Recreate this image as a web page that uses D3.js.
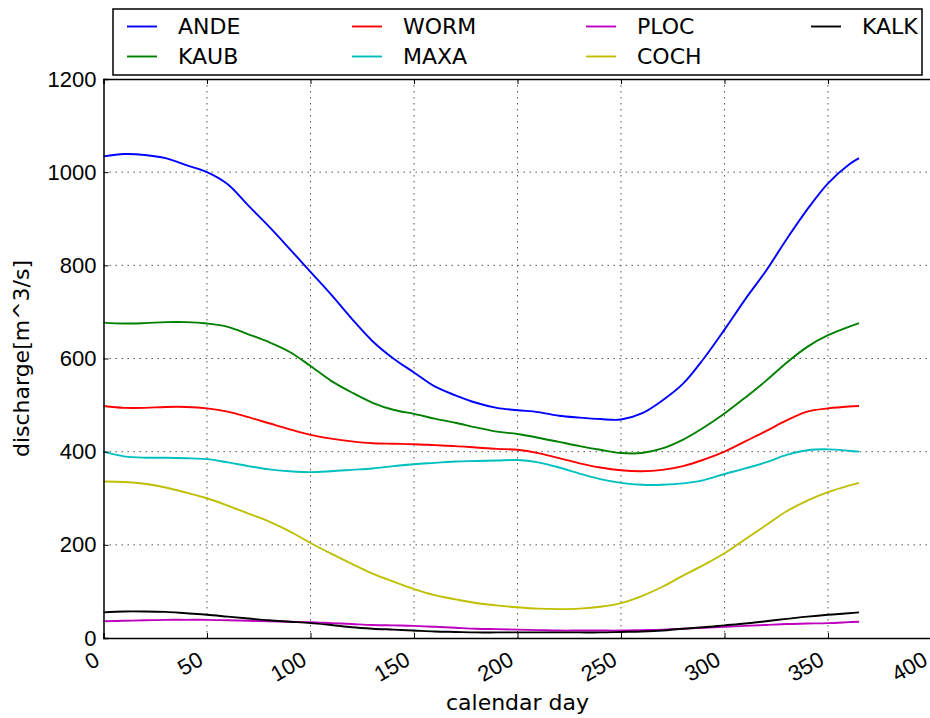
<!DOCTYPE html>
<html>
<head>
<meta charset="utf-8">
<script src="https://cdn.jsdelivr.net/npm/d3@7"></script>
<style>
  body { margin: 0; background: #fff; }
  svg { font-family: "DejaVu Sans", sans-serif; }
</style>
</head>
<body>
<svg id="chart" width="930" height="718"></svg>
<script>
// calendar days sampled along the curves
var days = [0, 10, 20, 30, 40, 50, 60, 70, 80, 90, 100, 110, 120, 130, 140, 150, 160, 170, 180,
            190, 200, 210, 220, 230, 240, 250, 260, 270, 280, 290, 300, 310, 320, 330, 340, 350, 360, 365];

var ANDE = [1034, 1039, 1037, 1030, 1015, 1000, 974, 928, 883, 835, 786, 737, 685, 637, 600, 570, 540, 521, 505,
            494, 489, 485, 477, 473, 470, 469, 482, 510, 546, 600, 662, 727, 788, 856, 920, 976, 1016, 1030];
var KAUB = [677, 675, 676, 678, 678, 675, 668, 652, 635, 614, 584, 552, 527, 505, 490, 481, 471, 462, 452,
            443, 438, 430, 421, 412, 404, 397, 397, 407, 426, 452, 482, 516, 552, 591, 625, 650, 668, 676];
var WORM = [498, 494, 494, 496, 496, 493, 486, 474, 461, 448, 436, 428, 422, 418, 417, 416, 414, 412, 409,
            406, 404, 397, 386, 375, 366, 360, 358, 361, 369, 383, 400, 422, 444, 467, 486, 493, 497, 498];
var MAXA = [400, 390, 387, 387, 386, 384, 377, 369, 362, 358, 356, 358, 361, 364, 369, 373, 376, 379, 380,
            381, 382, 377, 366, 353, 341, 333, 329, 329, 332, 339, 352, 364, 377, 393, 403, 405, 402, 400];
var PLOC = [36, 37, 38, 39, 39, 39, 38, 37, 36, 35, 34, 32, 30, 28, 27, 26, 24, 22, 20,
            19, 18, 17, 16, 16, 16, 16, 17, 18, 20, 22, 24, 26, 28, 30, 31, 32, 34, 35];
var COCH = [336, 335, 331, 323, 312, 300, 284, 267, 250, 229, 204, 181, 159, 138, 121, 105, 92, 83, 75,
            70, 66, 63, 62, 63, 67, 75, 90, 110, 134, 157, 182, 212, 242, 272, 295, 313, 327, 333];
var KALK = [55, 57, 57, 56, 53, 50, 46, 42, 38, 35, 32, 28, 23, 20, 18, 16, 14, 13, 12,
            12, 12, 12, 12, 12, 12, 13, 14, 16, 20, 23, 27, 31, 36, 41, 46, 50, 53, 55];

var names  = ['ANDE', 'KAUB', 'WORM', 'MAXA', 'PLOC', 'COCH', 'KALK'];
var values = [ANDE, KAUB, WORM, MAXA, PLOC, COCH, KALK];
var colors = ['#0000ff', '#008000', '#ff0000', '#00bfbf', '#bf00bf', '#bfbf00', '#000000'];

var xTicks = [0, 50, 100, 150, 200, 250, 300, 350, 400];
var yTicks = [0, 200, 400, 600, 800, 1000, 1200];

var svg = d3.select('#chart');
var plotLeft = 103.5, plotRight = 931.5, plotTop = 79, plotBottom = 638;
var fontSize = '22px';

var x = d3.scaleLinear().domain([0, 400]).range([plotLeft, plotRight]);
var y = d3.scaleLinear().domain([0, 1200]).range([plotBottom, plotTop]);

// grid
var grid = svg.append('g').attr('class', 'grid');
grid.selectAll('line.vx').data(xTicks.slice(1, -1)).enter().append('line')
  .attr('x1', function(d) { return x(d); }).attr('x2', function(d) { return x(d); })
  .attr('y1', plotTop).attr('y2', plotBottom);
grid.selectAll('line.hy').data(yTicks.slice(1, -1)).enter().append('line')
  .attr('x1', plotLeft).attr('x2', plotRight)
  .attr('y1', function(d) { return y(d); }).attr('y2', function(d) { return y(d); });
grid.selectAll('line')
  .attr('stroke', '#555')
  .attr('stroke-width', 1)
  .attr('stroke-dasharray', '1.5,4.5');

// series
var line = d3.line()
  .x(function(d) { return x(d[0]); })
  .y(function(d) { return y(d[1]); })
  .curve(d3.curveCatmullRom.alpha(0.5));

svg.append('g').attr('class', 'series')
  .selectAll('path').data(values).enter().append('path')
  .attr('d', function(v) { return line(days.map(function(day, i) { return [day, v[i]]; })); })
  .attr('fill', 'none')
  .attr('stroke', function(v, i) { return colors[i]; })
  .attr('stroke-width', 1.9);

// axes (ticks point inward, like matplotlib classic)
var xAxis = d3.axisBottom(x).tickValues(xTicks).tickSize(-5);
var gx = svg.append('g').attr('transform', 'translate(0,' + plotBottom + ')').call(xAxis);
gx.selectAll('text')
  .style('font-size', fontSize)
  .attr('fill', '#000')
  .attr('text-anchor', 'end')
  .attr('x', 0).attr('y', 0).attr('dy', 0)
  .attr('transform', 'translate(-3,26) rotate(-30)');

var xTop = d3.axisTop(x).tickValues(xTicks).tickSize(-5).tickFormat('');
svg.append('g').attr('transform', 'translate(0,' + plotTop + ')').call(xTop);

var yAxis = d3.axisLeft(y).tickValues(yTicks).tickSize(-5).tickPadding(7).tickFormat(d3.format('d'));
var gy = svg.append('g').attr('transform', 'translate(' + plotLeft + ',0)').call(yAxis);
gy.selectAll('text').style('font-size', fontSize).attr('fill', '#000');

svg.selectAll('.domain').attr('stroke', '#000').attr('stroke-width', 1.5);
svg.selectAll('.tick line').attr('stroke', '#000');

// axis labels
svg.append('text')
  .attr('x', (plotLeft + x(400)) / 2).attr('y', 710)
  .attr('text-anchor', 'middle')
  .style('font-size', fontSize)
  .text('calendar day');

svg.append('text')
  .attr('transform', 'translate(29,' + ((plotTop + plotBottom) / 2) + ') rotate(-90)')
  .attr('text-anchor', 'middle')
  .style('font-size', fontSize)
  .text('discharge[m^3/s]');

// legend, 4 columns filled column-wise
var legend = svg.append('g').attr('class', 'legend');
legend.append('rect')
  .attr('x', 113).attr('y', 9).attr('width', 809).attr('height', 66)
  .attr('fill', '#fff').attr('stroke', '#000').attr('stroke-width', 1.5);

var colX = [127, 352, 586, 811];
var rowY = [26.5, 56.5];
var items = legend.selectAll('g.item').data(names).enter().append('g')
  .attr('transform', function(d, i) {
    return 'translate(' + colX[Math.floor(i / 2)] + ',' + rowY[i % 2] + ')';
  });
items.append('line')
  .attr('x1', 0).attr('x2', 30).attr('y1', 0).attr('y2', 0)
  .attr('stroke', function(d, i) { return colors[i]; })
  .attr('stroke-width', 1.9);
items.append('text')
  .attr('x', 51).attr('y', 0).attr('dy', '0.35em')
  .style('font-size', fontSize)
  .text(function(d) { return d; });
</script>
</body>
</html>
